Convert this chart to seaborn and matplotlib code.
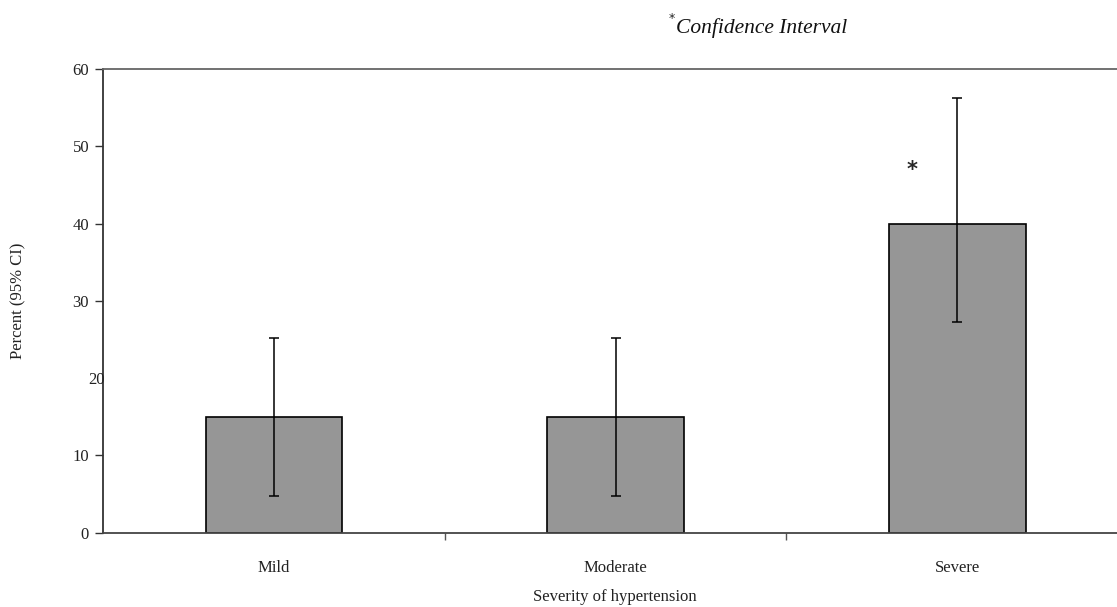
import matplotlib
matplotlib.use("Agg")
import matplotlib.pyplot as plt
import seaborn as sns
import pandas as pd
import numpy as np

# values
severity = ["Mild", "Moderate", "Severe"]
percent = [15, 15, 40]
ci_low = [4.8, 4.8, 27.3]
ci_high = [25.2, 25.2, 56.3]
y_ticks = [0, 10, 20, 30, 40, 50, 60]

df = pd.DataFrame({"severity": severity, "percent": percent})

sns.set_theme(style="white")
plt.rcParams["font.family"] = ["Liberation Serif", "DejaVu Serif"]

W, H = 1117, 607
fig = plt.figure(figsize=(W / 100, H / 100), dpi=100)
ax = fig.add_axes([103 / W, 1 - 532.7 / H, 1025 / W, 463.7 / H])

sns.barplot(data=df, x="severity", y="percent", color="#969696",
            edgecolor="black", linewidth=1.2, width=0.4, saturation=1, ax=ax)

pos = np.arange(len(severity))
err = [np.array(percent) - np.array(ci_low), np.array(ci_high) - np.array(percent)]
ax.errorbar(pos, percent, yerr=err, fmt="none", ecolor="black",
            elinewidth=1.1, capsize=3.6, capthick=1.1)

ax.set_xlim(-0.5, 2.5)
ax.set_ylim(0, 60)
ax.set_yticks(y_ticks)
ax.set_yticklabels(["" if t == 20 else str(t) for t in y_ticks], fontsize=12)
ax.tick_params(axis="y", left=True, length=6, width=1, color="#333333",
               pad=4, labelcolor="#222222")
# misplaced "20" label as in the original
ax.annotate("20", xy=(0, 20), xycoords=("axes fraction", "data"),
            xytext=(1, -1.5), textcoords="offset points",
            ha="right", va="center", fontsize=12, color="#222222")
ax.yaxis.get_major_ticks()[2].tick1line.set_visible(False)

ax.set_xticks(pos)
ax.set_xticklabels(severity, fontsize=12, color="#222222")
ax.tick_params(axis="x", which="major", bottom=False, length=0, pad=20)
ax.set_xticks([0.5, 1.5], minor=True)
ax.tick_params(axis="x", which="minor", bottom=True, length=5, width=1,
               color="#555555")

ax.set_xlabel("")
ax.set_ylabel("")
fig.text(18 / W, 1 - 301 / H, "Percent (95% CI)", rotation=90,
         ha="center", va="center", fontsize=12, color="#222222")
fig.text(615 / W, 1 - 597 / H, "Severity of hypertension",
         ha="center", va="center", fontsize=12, color="#222222")

for side in ["top", "bottom", "left", "right"]:
    ax.spines[side].set_visible(True)
    ax.spines[side].set_linewidth(1.3)
ax.spines["left"].set_color("#333333")
ax.spines["bottom"].set_color("#444444")
ax.spines["top"].set_color("#666666")
ax.spines["right"].set_color("#666666")

# asterisk marking the severe group
ax.text(1.868, 46.9, "*", ha="center", va="center", fontsize=15,
        fontweight="bold", family="DejaVu Sans")

fig.text(668 / W, 1 - 24 / H, r"$^{*}$", ha="left", va="center", fontsize=13)
fig.text(676 / W, 1 - 28 / H, "Confidence Interval", ha="left", va="center",
         fontsize=15.5, style="italic", color="#111111")

fig.savefig("out.png", dpi=100)
